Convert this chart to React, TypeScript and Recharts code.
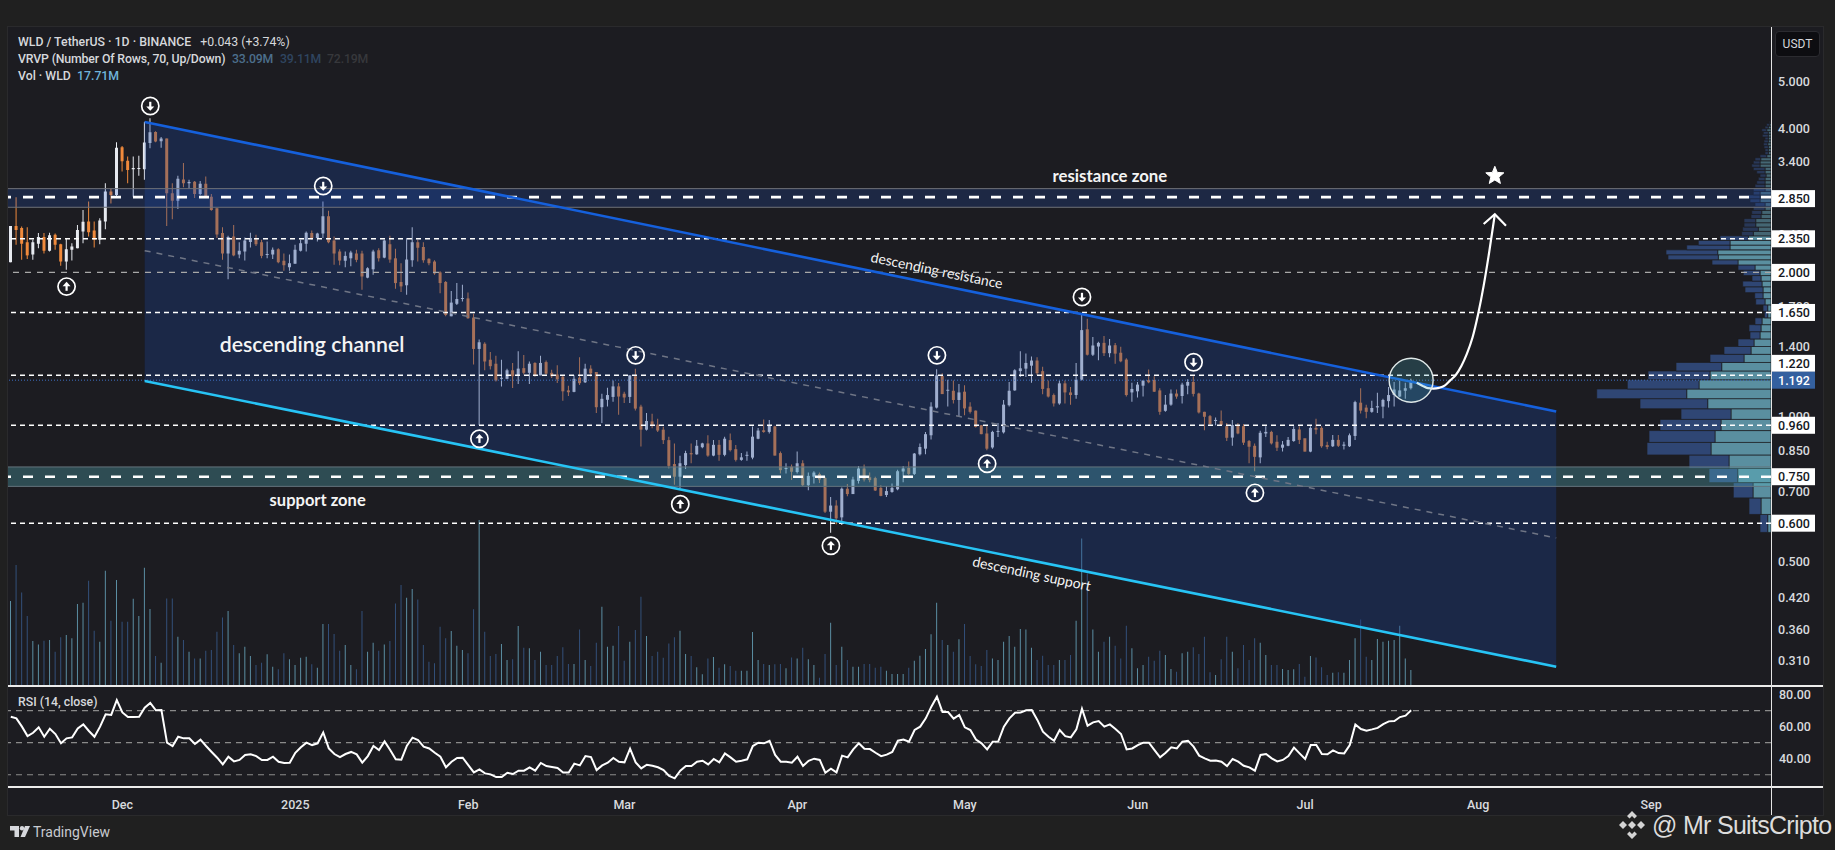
import {
  Area,
  Bar,
  Cell,
  ComposedChart,
  Line,
  ReferenceArea,
  ReferenceDot,
  ReferenceLine,
  XAxis,
  YAxis,
} from 'recharts';

const FONT = 'Roboto, sans-serif';

// one row per day, the axis runs on past the last candle
const firstDay = Date.UTC(2024, 10, 11);
const dayCount = 316;
const dates: string[] = [];
for (let i = 0; i < dayCount; i++) {
  dates.push(new Date(firstDay + i * 86400000).toISOString().slice(0, 10));
}

const monthTicks = ['2024-12-01', '2025-01-01', '2025-02-01', '2025-03-01', '2025-04-01', '2025-05-01', '2025-06-01', '2025-07-01', '2025-08-01', '2025-09-01'];
const monthLabels = ['Dec', '2025', 'Feb', 'Mar', 'Apr', 'May', 'Jun', 'Jul', 'Aug', 'Sep'];

// [open, high, low, close]
const ohlc = [
  [2.1, 2.5, 2.1, 2.5], [2.5, 2.87, 2.285, 2.45], [2.475, 2.493, 2.124, 2.295], [2.31, 2.485, 2.134, 2.17],
  [2.18, 2.34, 2.124, 2.31], [2.295, 2.415, 2.245, 2.37], [2.37, 2.415, 2.19, 2.22], [2.22, 2.42, 2.21, 2.39],
  [2.395, 2.41, 2.23, 2.285], [2.29, 2.295, 2.065, 2.107], [2.107, 2.35, 2.025, 2.236], [2.23, 2.3, 2.117, 2.265],
  [2.245, 2.51, 2.245, 2.45], [2.435, 2.7, 2.3, 2.55], [2.555, 2.81, 2.375, 2.425], [2.445, 2.555, 2.255, 2.34],
  [2.34, 2.594, 2.29, 2.565], [2.555, 3.07, 2.46, 2.95], [2.95, 2.99, 2.785, 2.9], [2.9, 3.735, 2.885, 3.64],
  [3.645, 3.67, 3.245, 3.41], [3.42, 3.49, 3.07, 3.27], [3.28, 3.49, 2.875, 3.3], [3.285, 3.5, 3.18, 3.3],
  [3.28, 4.12, 3.12, 3.73], [3.72, 4.19, 3.63, 3.92], [3.925, 3.94, 3.735, 3.75], [3.755, 3.83, 3.64, 3.805],
  [3.805, 3.805, 2.5, 2.925], [2.925, 3.07, 2.58, 2.82], [2.82, 3.18, 2.71, 3.135], [3.125, 3.38, 3.01, 3.07],
  [3.07, 3.12, 2.99, 3.085], [3.09, 3.1, 2.86, 2.915], [2.915, 3.1, 2.895, 3.06], [3.06, 3.168, 2.875, 2.885],
  [2.875, 2.915, 2.69, 2.7], [2.72, 2.72, 2.36, 2.4], [2.415, 2.485, 2.124, 2.19], [2.19, 2.385, 1.935, 2.37],
  [2.375, 2.51, 2.16, 2.17], [2.18, 2.31, 2.14, 2.22], [2.21, 2.365, 2.117, 2.33], [2.315, 2.42, 2.255, 2.36],
  [2.36, 2.395, 2.27, 2.29], [2.31, 2.34, 2.14, 2.165], [2.175, 2.32, 2.14, 2.18], [2.18, 2.255, 2.134, 2.23],
  [2.235, 2.245, 2.09, 2.1], [2.115, 2.19, 2.015, 2.07], [2.05, 2.18, 2.015, 2.09], [2.085, 2.285, 2.085, 2.23],
  [2.22, 2.34, 2.21, 2.3], [2.295, 2.435, 2.21, 2.42], [2.415, 2.445, 2.34, 2.36], [2.36, 2.42, 2.32, 2.41],
  [2.41, 2.81, 2.36, 2.62], [2.62, 2.69, 2.3, 2.31], [2.33, 2.375, 2.075, 2.19], [2.21, 2.236, 2.07, 2.117],
  [2.115, 2.21, 2.05, 2.165], [2.14, 2.22, 2.06, 2.2], [2.19, 2.23, 2.1, 2.124], [2.19, 2.22, 1.84, 1.961],
  [1.95, 2.05, 1.945, 2.04], [2.03, 2.23, 1.977, 2.21], [2.225, 2.245, 2.107, 2.14], [2.147, 2.34, 2.14, 2.33],
  [2.29, 2.385, 2.095, 2.127], [2.14, 2.24, 1.85, 1.9], [1.91, 2.09, 1.82, 1.87], [1.88, 2.36, 1.796, 2.127],
  [2.12, 2.485, 2.056, 2.31], [2.31, 2.34, 2.107, 2.25], [2.26, 2.31, 2.095, 2.12], [2.135, 2.14, 2.07, 2.09],
  [2.107, 2.12, 1.977, 1.99], [2.0, 2.01, 1.81, 1.9], [1.91, 1.92, 1.62, 1.63], [1.62, 1.83, 1.62, 1.73],
  [1.72, 1.9, 1.71, 1.76], [1.76, 1.885, 1.74, 1.765], [1.765, 1.815, 1.6, 1.605], [1.61, 1.64, 1.285, 1.385],
  [1.385, 1.45, 0.961, 1.43], [1.42, 1.43, 1.25, 1.304], [1.315, 1.365, 1.255, 1.275], [1.29, 1.34, 1.185, 1.19],
  [1.2, 1.315, 1.157, 1.205], [1.2, 1.26, 1.198, 1.25], [1.25, 1.295, 1.148, 1.215], [1.22, 1.37, 1.17, 1.26],
  [1.263, 1.345, 1.225, 1.235], [1.235, 1.304, 1.17, 1.29], [1.295, 1.3, 1.212, 1.22], [1.22, 1.34, 1.22, 1.295],
  [1.3, 1.31, 1.225, 1.23], [1.235, 1.253, 1.204, 1.215], [1.225, 1.28, 1.176, 1.197], [1.212, 1.22, 1.08, 1.13],
  [1.135, 1.16, 1.105, 1.125], [1.127, 1.22, 1.125, 1.2], [1.207, 1.33, 1.165, 1.175], [1.18, 1.29, 1.176, 1.26],
  [1.26, 1.28, 1.212, 1.232], [1.24, 1.24, 1.018, 1.047], [1.047, 1.117, 0.97, 1.09], [1.085, 1.15, 1.05, 1.11],
  [1.1, 1.19, 1.075, 1.157], [1.157, 1.176, 1.01, 1.102], [1.117, 1.127, 1.068, 1.097], [1.1, 1.22, 1.068, 1.22],
  [1.215, 1.26, 1.03, 1.04], [1.05, 1.06, 0.867, 0.94], [0.94, 1.018, 0.936, 0.98], [0.978, 1.015, 0.946, 0.96],
  [0.963, 0.99, 0.93, 0.936], [0.94, 0.953, 0.878, 0.894], [0.894, 0.909, 0.78, 0.79], [0.797, 0.88, 0.722, 0.75],
  [0.75, 0.829, 0.71, 0.8], [0.793, 0.85, 0.778, 0.84], [0.84, 0.88, 0.8, 0.835], [0.835, 0.894, 0.833, 0.87],
  [0.864, 0.883, 0.86, 0.88], [0.88, 0.915, 0.825, 0.83], [0.83, 0.894, 0.827, 0.874], [0.874, 0.894, 0.81, 0.833],
  [0.833, 0.909, 0.827, 0.9], [0.894, 0.923, 0.846, 0.852], [0.856, 0.873, 0.807, 0.813], [0.813, 0.84, 0.81, 0.823],
  [0.829, 0.846, 0.81, 0.833], [0.822, 0.954, 0.816, 0.909], [0.9, 0.948, 0.898, 0.936], [0.937, 0.987, 0.926, 0.93],
  [0.93, 0.985, 0.923, 0.958], [0.955, 0.958, 0.83, 0.83], [0.84, 0.846, 0.762, 0.774], [0.778, 0.8, 0.762, 0.782],
  [0.787, 0.795, 0.738, 0.768], [0.767, 0.846, 0.762, 0.8], [0.8, 0.812, 0.717, 0.72], [0.72, 0.765, 0.703, 0.753],
  [0.75, 0.77, 0.726, 0.765], [0.76, 0.765, 0.728, 0.74], [0.745, 0.75, 0.63, 0.634], [0.634, 0.68, 0.573, 0.653],
  [0.653, 0.67, 0.597, 0.614], [0.617, 0.712, 0.595, 0.708], [0.708, 0.724, 0.683, 0.69], [0.69, 0.75, 0.69, 0.74],
  [0.735, 0.79, 0.726, 0.78], [0.78, 0.795, 0.733, 0.74], [0.748, 0.765, 0.73, 0.738], [0.745, 0.75, 0.7, 0.702],
  [0.711, 0.72, 0.683, 0.684], [0.687, 0.717, 0.68, 0.7], [0.697, 0.726, 0.694, 0.711], [0.706, 0.775, 0.703, 0.77],
  [0.769, 0.79, 0.73, 0.78], [0.782, 0.807, 0.756, 0.76], [0.76, 0.84, 0.756, 0.838], [0.835, 0.88, 0.83, 0.865],
  [0.858, 0.93, 0.835, 0.92], [0.915, 1.072, 0.897, 1.05], [1.045, 1.256, 1.04, 1.22], [1.216, 1.233, 1.12, 1.115],
  [1.133, 1.194, 1.05, 1.137], [1.133, 1.19, 1.066, 1.084], [1.084, 1.17, 1.003, 1.124], [1.128, 1.163, 1.007, 1.041],
  [1.05, 1.072, 1.016, 1.024], [1.03, 1.03, 0.95, 0.952], [0.96, 0.961, 0.92, 0.92], [0.923, 0.961, 0.852, 0.858],
  [0.863, 0.935, 0.858, 0.93], [0.93, 0.97, 0.907, 0.932], [0.928, 1.084, 0.923, 1.06], [1.057, 1.182, 1.05, 1.133],
  [1.135, 1.256, 1.133, 1.25], [1.245, 1.37, 1.21, 1.262], [1.26, 1.355, 1.21, 1.295], [1.278, 1.335, 1.178, 1.31],
  [1.31, 1.33, 1.222, 1.233], [1.245, 1.272, 1.114, 1.143], [1.147, 1.19, 1.097, 1.102], [1.11, 1.118, 1.05, 1.066],
  [1.066, 1.19, 1.06, 1.174], [1.174, 1.19, 1.066, 1.124], [1.124, 1.154, 1.06, 1.11], [1.11, 1.295, 1.09, 1.194],
  [1.195, 1.63, 1.19, 1.516], [1.522, 1.6, 1.342, 1.347], [1.347, 1.467, 1.338, 1.408], [1.401, 1.434, 1.311, 1.426],
  [1.426, 1.474, 1.338, 1.357], [1.357, 1.453, 1.33, 1.408], [1.41, 1.425, 1.29, 1.354], [1.36, 1.4, 1.3, 1.305],
  [1.316, 1.324, 1.102, 1.11], [1.124, 1.178, 1.075, 1.143], [1.13, 1.182, 1.097, 1.167], [1.161, 1.19, 1.102, 1.19],
  [1.193, 1.255, 1.174, 1.18], [1.193, 1.215, 1.126, 1.128], [1.135, 1.147, 1.01, 1.024], [1.029, 1.11, 1.024, 1.06],
  [1.06, 1.14, 1.055, 1.118], [1.118, 1.14, 1.091, 1.102], [1.105, 1.178, 1.066, 1.167], [1.161, 1.197, 1.114, 1.182],
  [1.182, 1.215, 1.102, 1.116], [1.118, 1.122, 1.016, 1.021], [1.024, 1.024, 0.937, 1.0], [1.003, 1.008, 0.961, 0.966],
  [0.98, 0.997, 0.96, 0.985], [0.98, 1.03, 0.96, 0.961], [0.956, 0.97, 0.89, 0.904], [0.905, 0.985, 0.87, 0.961],
  [0.958, 0.97, 0.92, 0.923], [0.956, 0.966, 0.873, 0.883], [0.89, 0.894, 0.8, 0.866], [0.87, 0.88, 0.77, 0.825],
  [0.823, 0.935, 0.8, 0.926], [0.923, 0.955, 0.907, 0.93], [0.93, 0.935, 0.875, 0.88], [0.887, 0.915, 0.848, 0.862],
  [0.862, 0.89, 0.846, 0.875], [0.87, 0.907, 0.868, 0.895], [0.89, 0.955, 0.887, 0.943], [0.941, 0.955, 0.878, 0.895],
  [0.902, 0.9, 0.846, 0.846], [0.846, 0.955, 0.843, 0.948], [0.948, 0.99, 0.92, 0.94], [0.948, 0.955, 0.862, 0.868],
  [0.873, 0.887, 0.856, 0.865], [0.868, 0.916, 0.865, 0.895], [0.895, 0.916, 0.865, 0.87], [0.87, 0.887, 0.855, 0.875],
  [0.868, 0.923, 0.865, 0.915], [0.912, 1.08, 0.895, 1.073], [1.07, 1.147, 1.016, 1.03], [1.045, 1.06, 0.993, 1.024],
  [1.024, 1.08, 1.02, 1.043], [1.046, 1.122, 1.018, 1.052], [1.05, 1.09, 0.993, 1.084], [1.078, 1.154, 1.046, 1.11],
  [1.11, 1.182, 1.05, 1.14], [1.102, 1.19, 1.098, 1.135], [1.133, 1.178, 1.091, 1.147], [1.147, 1.2, 1.14, 1.19],
];

const volumes = [
  94.1, 133.9, 103.7, 77.5, 49.8, 46.1, 50.2, 50.9, 38, 53.9, 56.5, 52.8, 90.8, 92.3, 116.6, 61.3, 49.1, 127.7, 72.3, 117.3,
  71.2, 71.2, 96.7, 77.5, 131, 85.2, 33.2, 25.8, 97, 97, 54.6, 50.9, 38, 30.6, 30.6, 39.1, 39.9, 60.1, 76, 83,
  45.4, 36.2, 43.5, 33.2, 23.2, 25.8, 35.1, 21.4, 18.5, 36.2, 29.5, 23.2, 31.4, 32.5, 24, 20.3, 68.6, 68.6, 57.6, 39.1,
  45.4, 23.2, 18.5, 83, 38, 48, 39.1, 46.1, 49.8, 91.5, 111.8, 97.8, 107.4, 95.9, 45.4, 26.9, 25.1, 65.7, 52.8, 60.9,
  44.6, 39.9, 36.2, 84.9, 183.8, 60.1, 33.2, 35.4, 46.5, 28.8, 29.5, 66.4, 42.4, 41.7, 28.8, 38, 23.2, 23.2, 33.2, 42.8,
  24.4, 24.4, 62.7, 28.8, 22.1, 48, 87.8, 43.5, 44.6, 66.4, 28, 49.1, 62, 98.9, 55.4, 33.2, 38, 31.4, 47.2, 53.9,
  61.3, 35.4, 33.2, 20.7, 12.9, 30.6, 32.1, 20.3, 24, 22.1, 17, 17, 17, 59.8, 28.8, 24.4, 23.2, 24, 24.4, 19.6,
  31.7, 30.6, 42.4, 29.5, 23.2, 9.2, 35.4, 70.1, 23.2, 43.5, 28.8, 21.4, 21.4, 24.4, 24.4, 20.3, 21.4, 17, 13.3, 13.3,
  13.3, 20.3, 28, 33.6, 41, 57.2, 92.3, 50.9, 45.4, 38, 51.7, 68.6, 33.2, 24, 22.1, 39.9, 30.6, 28.8, 49.1, 55.4,
  43.5, 63.1, 62.7, 42.4, 28.8, 33.6, 23.2, 23.2, 28.8, 28.8, 34.3, 72.3, 163.5, 124.7, 62.7, 38, 49.1, 54.6, 44.6, 30.6,
  66.8, 41.7, 19.6, 23.2, 32.5, 28, 39.1, 34.3, 18.8, 15.9, 36.2, 38, 42.8, 35.4, 54.6, 15.1, 12.2, 29.5, 54.6, 38,
  19.6, 45.4, 28.8, 52.8, 48, 34.3, 23.2, 23.2, 18.8, 17.7, 18.5, 24.4, 10.3, 33.2, 31.7, 20.7, 12.2, 14.8, 15.1, 14.8,
  28.8, 52.8, 73.8, 32.5, 28.8, 52, 49.1, 50.2, 50.9, 66.8, 30.6, 17.71,
];

const rsiValues = [
  66.2, 65.2, 60, 54.1, 56.2, 59.6, 53.7, 58.7, 55.4, 49.6, 52.7, 53.3, 58.9, 61.4, 57.3, 53.7, 60, 67.7, 67.3, 76.6,
  68.9, 66, 66, 66.2, 71.9, 74.8, 70.2, 70.4, 50, 47.9, 53.7, 52.7, 52.7, 49.2, 51.9, 47.9, 44.2, 40.6, 36.4, 41.2,
  38.3, 39.2, 42.3, 42.7, 41.6, 39.2, 39.2, 41.2, 38.1, 37.3, 37.5, 43.7, 47.1, 50, 48.5, 49.6, 56.4, 46.4, 42.9, 41,
  42.9, 44.2, 42.7, 37.5, 41.6, 47.9, 45.4, 50.8, 45.4, 39.6, 39.4, 48.1, 53.1, 51.6, 47.5, 46.4, 43.7, 41.2, 34.6, 38.1,
  40.4, 40.6, 36, 31.4, 33.3, 30.8, 30.2, 28.5, 28.5, 31.2, 30.4, 32.5, 32.5, 34.6, 32.5, 37.3, 35.4, 34.8, 34.2, 31.4,
  31.4, 36.9, 35.8, 41.6, 41, 32.9, 35.8, 37.5, 40.4, 38.1, 37.7, 46.2, 37.7, 33.9, 36.2, 35.6, 34.6, 32.9, 29.2, 27.7,
  32.5, 35.4, 35.4, 38.1, 38.7, 36.4, 39.8, 37.7, 43.3, 40.8, 38.1, 38.7, 39.6, 47.9, 50, 49.6, 51.2, 42.3, 38.1, 38.1,
  37.5, 41.2, 35.4, 38.7, 40, 39.2, 31.2, 33.7, 31.4, 41.9, 40.8, 45.8, 49.6, 46.2, 46, 43.7, 41.6, 42.5, 44.2, 51.2,
  52, 50.6, 57.9, 60, 65.2, 72.5, 78.7, 69.1, 69.1, 65, 67.3, 59.6, 57.9, 52, 49.6, 45.8, 50.6, 50.8, 60, 65.2,
  68.7, 68.9, 70.2, 70.4, 64.2, 56.9, 53.7, 51.2, 57.9, 54.1, 53.3, 58.3, 71.2, 60.6, 62.7, 63.5, 60, 61.4, 58.5, 55.4,
  45.8, 46.4, 48.5, 50, 50, 45.4, 40.8, 43.7, 47.1, 46.4, 50.6, 51.2, 47.5, 41.9, 40.2, 38.7, 38.9, 38.1, 35.4, 39.8,
  38.1, 35.6, 34.6, 32.5, 42.3, 42.9, 40.2, 38.3, 39.2, 41.6, 46.9, 43.3, 39.8, 48.5, 48.5, 42.9, 42.7, 45.2, 43.5, 43.3,
  48.5, 61.4, 58.5, 57.5, 58.3, 59.2, 61.6, 63.3, 63.5, 66, 66.9, 70.2,
];

// volume profile, bottom row first, rows are equal price steps
const profileStart = 0.574;
const profileStep = 0.0517;
const profileUp = [
  3.3, 10, 18, 33.3, 42, 60, 56, 50, 40, 63.3, 84.3, 72, 61, 49.3, 27, 20, 17, 11, 10, 9,
  3.3, 3.3, 6, 8, 8, 9, 10, 11, 16, 33, 52.7, 53.3, 41, 41, 22.7, 17.7, 12.7, 15.3, 15.3, 10,
  9.3, 6, 6, 11, 11, 11, 6, 6, 6, 6, 5, 6, 6, 11, 11, 10.3, 4.3, 2.7, 2.7, 2.7,
  3.3, 2.7, 2.7, 2.7, 2.7, 4.3, 2.7, 1.7, 0.7, 0.5,
];
const profileDown = [
  7.7, 12, 19.7, 28.7, 40, 64, 66, 61, 50, 67.7, 90, 71.7, 62, 45.7, 34, 27, 16, 10, 12, 7,
  3.3, 4.7, 9.3, 8.3, 18, 19.3, 9, 16.7, 17, 26, 50.3, 51.7, 43.3, 31.7, 28.3, 11.7, 15.7, 11.7, 11.7, 10,
  10, 11.7, 10, 10, 11.7, 6.7, 11.7, 10, 8.3, 6.7, 6, 8.3, 11.7, 8.3, 6.7, 5.7, 6.7, 3.3, 3.3, 4.3,
  4.3, 4.3, 3.3, 6, 5, 5, 3.3, 2.7, 1, 0.5,
];

// drawn trendlines, both ends of each
const channelStartDay = 24;
const channelEndDay = 277;
const channelTop = [4.117, 1.026];
const channelBottom = [1.1875, 0.3013];
const channelMiddle = [2.22, 0.559];

// the hand drawn arrow, one price per day from this day on
const arrowStartDay = 252;
const arrowCurve = [1.177, 1.161, 1.147, 1.145, 1.149, 1.161, 1.191, 1.222, 1.276, 1.354, 1.463, 1.636, 1.877, 2.208, 2.644];
const arrowHeadDays = [264, 266, 268];
const arrowHead = [2.523, 2.644, 2.503];

const touchPoints = [
  { day: 10, price: 1.868, dir: 'up' }, { day: 25, price: 4.446, dir: 'down' }, { day: 56, price: 3.028, dir: 'down' },
  { day: 84, price: 0.9, dir: 'up' }, { day: 112, price: 1.343, dir: 'down' }, { day: 120, price: 0.657, dir: 'up' },
  { day: 147, price: 0.5385, dir: 'up' }, { day: 166, price: 1.343, dir: 'down' }, { day: 175, price: 0.798, dir: 'up' },
  { day: 192, price: 1.777, dir: 'down' }, { day: 212, price: 1.299, dir: 'down' }, { day: 223, price: 0.694, dir: 'up' },
];

const notes = [
  { text: 'resistance zone', day: 197, price: 3.185, size: 16.8, weight: 700, angle: 0 },
  { text: 'descending channel', day: 54, price: 1.418, size: 21.3, weight: 600, angle: 0 },
  { text: 'support zone', day: 55, price: 0.672, size: 16.5, weight: 700, angle: 0 },
  { text: 'descending resistance', day: 166, price: 2.024, size: 14, weight: 400, angle: 11.6 },
  { text: 'descending support', day: 183, price: 0.472, size: 14, weight: 400, angle: 12 },
];

const thinLevels = [2.35, 1.65, 1.22, 0.96, 0.6];
const plainTicks = [5, 4, 3.4, 2.4, 1.7, 1.4, 1, 0.85, 0.7, 0.5, 0.42, 0.36, 0.31];
const boxedTicks = [2.85, 2.35, 2, 1.65, 1.22, 0.96, 0.75, 0.6];
const lastPrice = 1.192;
const rsiTicks = [40, 60, 80];
const rsiBands = [70, 50, 30];

const rows = dates.map((date, i) => {
  const c = ohlc[i];
  const row: Record<string, any> = { date };
  if (c) {
    row.wick = [c[2], c[1]];
    row.body = [Math.min(c[0], c[3]), Math.max(c[0], c[3])];
    row.rising = c[3] >= c[0];
    row.volume = volumes[i];
    row.rsi = rsiValues[i];
  }
  return row;
});
[channelStartDay, channelEndDay].forEach((day, end) => {
  rows[day].channel = [channelBottom[end], channelTop[end]];
  rows[day].channelTop = channelTop[end];
  rows[day].channelBottom = channelBottom[end];
  rows[day].channelMiddle = channelMiddle[end];
});
arrowCurve.forEach((price, i) => {
  rows[arrowStartDay + i].arrowCurve = price;
});
arrowHeadDays.forEach((day, i) => {
  rows[day].arrowHead = arrowHead[i];
});

const UP = '#e7eaf0';
const DOWN = '#f08a3c';
const candleCells = rows.map((r) => <Cell key={r.date} fill={r.rising ? UP : DOWN} />);
const volumeCells = rows.map((r) => <Cell key={r.date} fill={r.rising ? '#5b8ea3' : '#33507a'} />);

function PriceTick({ x, y, payload }: any) {
  const v = payload.value;
  const last = v === lastPrice;
  const boxed = last || boxedTicks.includes(v);
  // the 1.220 label gets pushed up by the last price label
  const cy = v === 1.22 ? y - 12 : y;
  return (
    <g>
      {boxed && <rect x={x} y={cy - 8.5} width={44} height={17} fill={last ? '#34609f' : '#ffffff'} />}
      <text
        x={x + 23}
        y={cy + 4.5}
        textAnchor="middle"
        fontFamily={FONT}
        fontSize={12.5}
        fontWeight={500}
        fill={last ? '#ffffff' : boxed ? '#131722' : '#d8dade'}
      >
        {v.toFixed(3)}
      </text>
    </g>
  );
}

function TouchIcon({ cx, cy, dir }: any) {
  const s = dir === 'up' ? -1 : 1;
  return (
    <g>
      <circle cx={cx} cy={cy} r={8.6} fill="none" stroke="#ffffff" strokeWidth={1.7} />
      <line x1={cx} y1={cy - 4.2 * s} x2={cx} y2={cy + 1 * s} stroke="#ffffff" strokeWidth={2.2} />
      <path d={`M${cx - 4} ${cy + 0.4 * s} L${cx + 4} ${cy + 0.4 * s} L${cx} ${cy + 4.8 * s} Z`} fill="#ffffff" />
    </g>
  );
}

function NoteText({ cx, cy, text, size, weight, angle }: any) {
  return (
    <text
      x={cx}
      y={cy}
      textAnchor="middle"
      dominantBaseline="central"
      fontFamily="Lato, sans-serif"
      fontSize={size}
      fontWeight={weight}
      fill="#f4f4f4"
      transform={angle ? `rotate(${angle} ${cx} ${cy})` : undefined}
    >
      {text}
    </text>
  );
}

function StarMark({ cx, cy }: any) {
  const pts = [];
  for (let i = 0; i < 10; i++) {
    const r = i % 2 === 0 ? 9.5 : 4.2;
    const a = (Math.PI / 5) * i - Math.PI / 2;
    pts.push(`${cx + r * Math.cos(a)},${cy + r * Math.sin(a)}`);
  }
  return <polygon points={pts.join(' ')} fill="#ffffff" stroke="#ffffff" strokeLinejoin="round" />;
}

function MainPane() {
  return (
    <ComposedChart
      width={1835}
      height={850}
      data={rows}
      margin={{ top: 27, right: 0, bottom: 164, left: 8 }}
      style={{ position: 'absolute', left: 0, top: 0 }}
    >
      <XAxis dataKey="date" scale="band" hide />
      <XAxis xAxisId="bodyX" dataKey="date" scale="band" hide />
      <XAxis xAxisId="volX" dataKey="date" scale="band" hide />
      <XAxis xAxisId="profileX" dataKey="profileLength" type="number" scale="linear" domain={[0, 1763]} reversed hide allowDataOverflow />
      <YAxis
        orientation="right"
        width={64}
        scale="log"
        type="number"
        domain={[0.2746, 6.496]}
        allowDataOverflow
        ticks={[...plainTicks, ...boxedTicks, lastPrice]}
        interval={0}
        tickSize={0}
        tickMargin={0}
        tickLine={false}
        axisLine={false}
        tick={<PriceTick />}
      />
      <YAxis yAxisId="volY" hide domain={[0, 730]} allowDataOverflow />

      <Bar xAxisId="volX" yAxisId="volY" dataKey="volume" barSize={1} isAnimationActive={false}>
        {volumeCells}
      </Bar>
      <Bar dataKey="wick" barSize={1} isAnimationActive={false}>
        {candleCells}
      </Bar>
      <Bar xAxisId="bodyX" dataKey="body" barSize={3} minPointSize={1} isAnimationActive={false}>
        {candleCells}
      </Bar>

      <Area
        dataKey="channel"
        connectNulls
        stroke="none"
        fill="rgb(25,62,143)"
        fillOpacity={0.35}
        dot={false}
        activeDot={false}
        isAnimationActive={false}
        zIndex={350}
      />

      {profileUp.map((up, k) => {
        const y1 = profileStart + k * profileStep;
        const y2 = y1 + profileStep;
        // the thin upper rows read much fainter in the picture
        const alpha = k >= 35 ? 0.65 : 1;
        return [
          <ReferenceArea key={`u${k}`} xAxisId="profileX" x1={0} x2={up} y1={y1} y2={y2} fill="#5a8fa0" fillOpacity={alpha} stroke="#1c1c21" strokeWidth={0.7} />,
          <ReferenceArea key={`d${k}`} xAxisId="profileX" x1={up} x2={up + profileDown[k]} y1={y1} y2={y2} fill="#2f4674" fillOpacity={alpha} stroke="#1c1c21" strokeWidth={0.7} />,
        ];
      })}

      <ReferenceArea y1={2.734} y2={2.99} fill="rgb(33,90,210)" fillOpacity={0.2} stroke="none" zIndex={360} />
      <ReferenceArea y1={0.716} y2={0.786} fill="rgb(90,190,200)" fillOpacity={0.3} stroke="none" zIndex={360} />
      <ReferenceLine y={2.99} stroke="#6f7278" strokeWidth={1} />
      <ReferenceLine y={2.734} stroke="#6f7278" strokeWidth={1} />
      <ReferenceLine y={0.786} stroke="#64747e" strokeWidth={1} />
      <ReferenceLine y={0.716} stroke="#64747e" strokeWidth={1} />

      <ReferenceLine y={lastPrice} stroke="#3f6fc0" strokeWidth={1} strokeDasharray="1 2" />
      {thinLevels.map((v) => (
        <ReferenceLine key={v} y={v} stroke="#ffffff" strokeWidth={1.5} strokeDasharray="5 4" />
      ))}
      <ReferenceLine y={2} stroke="#a8a8a8" strokeWidth={1.2} strokeDasharray="6 6" />
      <ReferenceLine y={2.87} stroke="#ffffff" strokeWidth={2.6} strokeDasharray="10 12" />
      <ReferenceLine y={0.75} stroke="#ffffff" strokeWidth={2.6} strokeDasharray="10 12" />

      <Line dataKey="channelMiddle" connectNulls dot={false} stroke="#6f7585" strokeWidth={1.5} strokeDasharray="6 6" isAnimationActive={false} />
      <Line dataKey="channelTop" connectNulls dot={false} stroke="#1560dc" strokeWidth={2.6} isAnimationActive={false} />
      <Line dataKey="channelBottom" connectNulls dot={false} stroke="#27c4f5" strokeWidth={2.6} isAnimationActive={false} />

      <ReferenceDot
        x={dates[251]}
        y={lastPrice}
        r={22}
        fill="rgb(70,170,190)"
        fillOpacity={0.24}
        stroke="#dfe8e8"
        strokeWidth={1.4}
      />
      <Line dataKey="arrowCurve" type="monotone" connectNulls dot={false} stroke="#ffffff" strokeWidth={2.2} isAnimationActive={false} />
      <Line dataKey="arrowHead" connectNulls dot={false} stroke="#ffffff" strokeWidth={2.2} isAnimationActive={false} />

      {touchPoints.map((p) => (
        <ReferenceDot key={p.day} x={dates[p.day]} y={p.price} shape={(s: any) => <TouchIcon {...s} dir={p.dir} />} />
      ))}
      {notes.map((n) => (
        <ReferenceDot key={n.text} x={dates[n.day]} y={n.price} shape={(s: any) => <NoteText {...s} {...n} />} />
      ))}
      <ReferenceDot x={dates[266]} y={3.18} shape={(s: any) => <StarMark {...s} />} />
    </ComposedChart>
  );
}

function RsiPane() {
  return (
    <ComposedChart
      width={1835}
      height={129}
      data={rows}
      margin={{ top: 0, right: 0, bottom: 0, left: 8 }}
      style={{ position: 'absolute', left: 0, top: 686 }}
    >
      <XAxis
        dataKey="date"
        scale="band"
        ticks={monthTicks}
        interval={0}
        tickLine={false}
        axisLine={false}
        height={28}
        tickMargin={7}
        tick={{ fill: '#d8dade', fontSize: 12.5, fontFamily: FONT, fontWeight: 500 }}
        tickFormatter={(d: string) => monthLabels[monthTicks.indexOf(d)]}
      />
      <YAxis
        orientation="right"
        width={64}
        type="number"
        domain={[22.3, 85.4]}
        allowDataOverflow
        ticks={rsiTicks}
        interval={0}
        tickSize={0}
        tickMargin={8}
        tickLine={false}
        axisLine={false}
        tick={{ fill: '#d8dade', fontSize: 12.5, fontFamily: FONT, fontWeight: 500 }}
        tickFormatter={(v: number) => v.toFixed(2)}
      />
      {rsiBands.map((v) => (
        <ReferenceLine key={v} y={v} stroke="#8a8a8a" strokeWidth={1.1} strokeDasharray="6 5" />
      ))}
      <Line dataKey="rsi" dot={false} stroke="#ffffff" strokeWidth={2} isAnimationActive={false} />
    </ComposedChart>
  );
}

function Header() {
  const line = { position: 'absolute', left: 18, fontFamily: FONT, fontSize: 12.3, color: '#d6d8dc', whiteSpace: 'pre', lineHeight: '16px', fontWeight: 500 } as const;
  const value = { position: 'absolute', top: 0 } as const;
  return (
    <>
      <div style={{ ...line, top: 34 }}>WLD / TetherUS · 1D · BINANCE   <span style={{ fontWeight: 400 }}>+0.043 (+3.74%)</span></div>
      <div style={{ ...line, top: 51, letterSpacing: -0.15 }}>
        VRVP (Number Of Rows, 70, Up/Down)
        <span style={{ ...value, left: 214, color: '#4c6f8c' }}>33.09M</span>
        <span style={{ ...value, left: 262, color: '#2f4560' }}>39.11M</span>
        <span style={{ ...value, left: 309, color: '#37383c' }}>72.19M</span>
      </div>
      <div style={{ ...line, top: 68 }}>Vol · WLD  <span style={{ color: '#6fb4dc' }}>17.71M</span></div>
      <div style={{ ...line, top: 694 }}>RSI (14, close)</div>
    </>
  );
}

export default function App() {
  return (
    <div style={{ position: 'fixed', left: 0, top: 0, width: 1835, height: 850, background: '#202020', overflow: 'hidden' }}>
      <div style={{ position: 'absolute', left: 8, top: 27, width: 1815, height: 788, background: '#1c1c21', outline: '1px solid #2a2a2c' }} />
      <MainPane />
      <RsiPane />
      <div style={{ position: 'absolute', left: 8, top: 685, width: 1815, height: 2, background: '#ececec' }} />
      <div style={{ position: 'absolute', left: 8, top: 786, width: 1815, height: 2, background: '#ececec' }} />
      <div style={{ position: 'absolute', left: 1770.5, top: 27, width: 1.5, height: 788, background: '#e4e4e4' }} />
      <div style={{ position: 'absolute', left: 1775, top: 31, width: 45, height: 26, boxSizing: 'border-box', background: '#0d0d11', border: '1px solid #2b2b30', borderRadius: 4, color: '#d6d8dc', fontFamily: FONT, fontSize: 12, lineHeight: '24px', textAlign: 'center' }}>USDT</div>
      <Header />
      <svg width={22} height={14} style={{ position: 'absolute', left: 10, top: 825 }}>
        <path d="M0 1 H9 V12 H4.5 V5.5 H0 Z" fill="#d6d8dc" />
        <circle cx={12} cy={3.2} r={2.2} fill="#d6d8dc" />
        <path d="M15 1 H20 L15 12 H10.5 Z" fill="#d6d8dc" />
      </svg>
      <div style={{ position: 'absolute', left: 33, top: 823, fontFamily: FONT, fontSize: 14, lineHeight: '18px', color: '#c9cbd0' }}>TradingView</div>
      <svg width={28} height={30} viewBox="0 0 28 30" style={{ position: 'absolute', left: 1618, top: 810 }}>
        <g fill="#d4d4d4">
          <path d="M14 1 L19 6 L16.5 8.5 L14 6 L11.5 8.5 L9 6 Z" />
          <path d="M14 29 L19 24 L16.5 21.5 L14 24 L11.5 21.5 L9 24 Z" />
          <path d="M14 11 L18 15 L14 19 L10 15 Z" />
          <path d="M5 11 L9 15 L5 19 L1 15 Z" />
          <path d="M23 11 L27 15 L23 19 L19 15 Z" />
        </g>
      </svg>
      <div style={{ position: 'absolute', left: 1652, top: 810, fontFamily: '"Liberation Sans", sans-serif', fontSize: 25, lineHeight: '30px', letterSpacing: -0.7, color: '#dcdcdc', whiteSpace: 'pre' }}>@ Mr SuitsCripto</div>
    </div>
  );
}
